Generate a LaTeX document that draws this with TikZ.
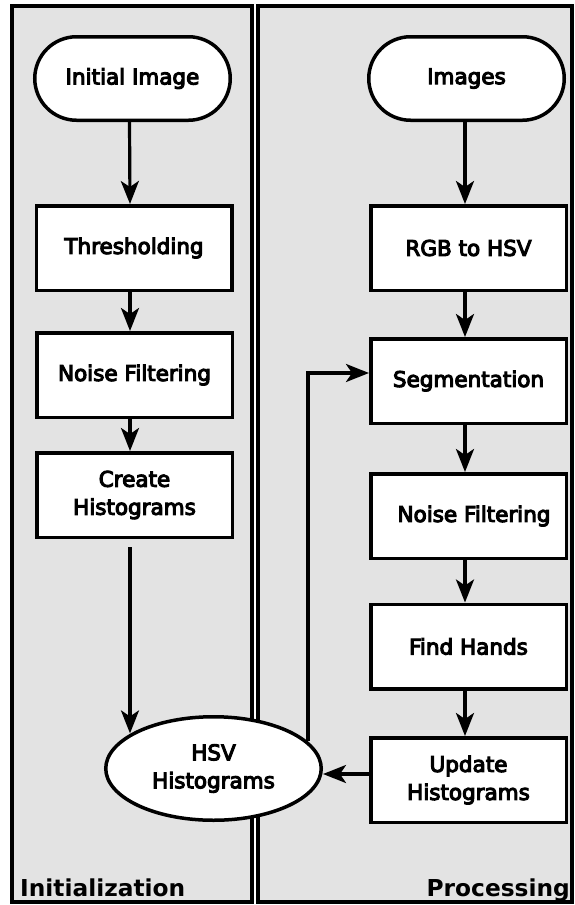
\documentclass[tikz,border=0pt]{standalone}
\usepackage{fontspec}
\setmainfont{DejaVu Sans}
\newfontfamily\nodefont{DejaVu Sans}[FakeBold=5]
\usetikzlibrary{arrows.meta,shapes.misc,shapes.geometric}
\definecolor{lanegray}{RGB}{227,227,227}
\begin{document}
\begin{tikzpicture}[x=1pt,y=-1pt,
  box/.style={draw,line width=3.5pt,fill=white,minimum width=195.5pt,minimum height=84.5pt,inner sep=0pt,font=\nodefont\fontsize{21.5}{28}\selectfont,align=center},
  term/.style={box,rounded rectangle,minimum width=195.5pt,minimum height=83.5pt},
  oval/.style={box,ellipse,minimum width=215.5pt,minimum height=103.5pt},
  arr/.style={line width=3.2pt,-{Stealth[length=23pt,width=18pt,inset=6pt]}},
  lane/.style={draw,line width=4pt,fill=lanegray},
  lanelabel/.style={font=\bfseries\fontsize{23.3}{28}\selectfont,inner sep=0pt}
]
\useasboundingbox (0,0) rectangle (575,905);
\path[lane] (11.5,6) rectangle (252,902);
\path[lane] (258,6) rectangle (572,902);

\node[lanelabel,anchor=base west] (l1) at (20,896) {Initialization};
\node[lanelabel,anchor=base east] (l2) at (570,896) {Processing};

\node[term] (init) at (132.5,78.5) {Initial Image};
\node[box] (thr) at (134,248) {Thresholding};
\node[box] (nf1) at (134.5,375) {Noise Filtering};
\node[box] (ch) at (134.5,495) {Create\\Histograms};
\node[oval] (hsv) at (213.5,768.5) {HSV\\Histograms};

\node[term] (img) at (466.5,78.5) {Images};
\node[box] (rgb) at (468.5,248) {RGB to HSV};
\node[box] (seg) at (468.5,381) {Segmentation};
\node[box] (nf2) at (468.5,516) {\hspace*{11pt}Noise Filtering};
\node[box] (fh) at (468.5,646.5) {Find Hands};
\node[box] (uh) at (468.5,780) {Update\\Histograms};

\draw[arr] ([xshift=-3pt]init.south) -- ([xshift=-4pt]thr.north);
\draw[arr] ([xshift=-4pt]thr.south) -- ([xshift=-4.5pt]nf1.north);
\draw[arr] ([xshift=-4.5pt]nf1.south) -- ([xshift=-4.5pt]ch.north);
\draw[arr] ([xshift=-4.5pt,yshift=-8pt]ch.south) -- ([xshift=-4.5pt]ch.south |- hsv.157);

\draw[arr] ([xshift=-1.5pt]img.south) -- ([xshift=-3.5pt]rgb.north);
\draw[arr] ([xshift=-3.5pt]rgb.south) -- ([xshift=-3.5pt]seg.north);
\draw[arr] ([xshift=-3.5pt]seg.south) -- ([xshift=-3.5pt]nf2.north);
\draw[arr] ([xshift=-3.5pt]nf2.south) -- ([xshift=-3.5pt]fh.north);
\draw[arr] ([xshift=-3.5pt]fh.south) -- ([xshift=-3.5pt]uh.north);

\draw[arr] ([yshift=6pt]uh.west) -- ([yshift=6pt]uh.west -| hsv.east);
\draw[arr] (hsv.16) |- ([yshift=8pt]seg.west);
\end{tikzpicture}
\end{document}
